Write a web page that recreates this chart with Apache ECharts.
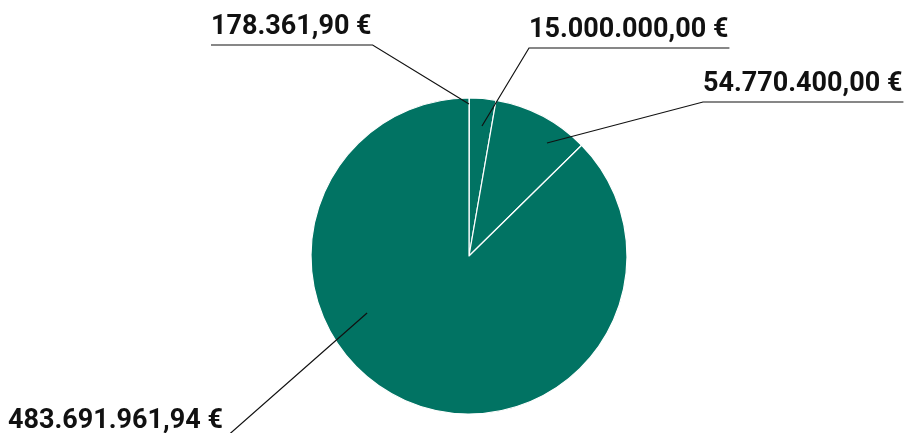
<!DOCTYPE html>
<html>
<head>
<meta charset="utf-8">
<script src="https://cdn.jsdelivr.net/npm/echarts@6/dist/echarts.min.js"></script>
<style>
html,body{margin:0;padding:0;background:#fff;}
#main{width:912px;height:433px;}
</style>
</head>
<body>
<div id="main"></div>
<script>
// Data
var categories = ['A', 'B', 'C', 'D'];
var values = [178361.90, 15000000.00, 54770400.00, 483691961.94];
var labels = ['178.361,90 €', '15.000.000,00 €', '54.770.400,00 €', '483.691.961,94 €'];

// Layout config (label placement only)
var CX = 469, CY = 256, R = 158;
// [text left x, underline y, anchor angle (deg, clockwise from top), anchor radius fraction, side]
var labelLayoutCfg = [
  [211, 45, 0.0, 0.962, 'right'],
  [529, 48, 5.7, 0.827, 'left'],
  [703, 102, 34.6, 0.869, 'left'],
  [8, 439, 240.8, 0.739, 'right']
];

var chart = echarts.init(document.getElementById('main'), null, {renderer: 'canvas'});
var FONT = 'Roboto';
var FS = 27;

var data = categories.map(function (c, i) {
  return {name: c, value: values[i]};
});

chart.setOption({
  animation: false,
  series: [{
    type: 'pie',
    z: 1,
    center: [CX, CY],
    radius: R,
    startAngle: 90,
    clockwise: true,
    minAngle: 0,
    avoidLabelOverlap: false,
    data: data,
    silent: true,
    itemStyle: {color: '#017363', borderColor: '#ffffff', borderWidth: 1.2},
    emphasis: {disabled: true},
    label: {show: false},
    labelLine: {show: false}
  }, {
    type: 'pie',
    z: 5,
    center: [CX, CY],
    radius: R,
    startAngle: 90,
    clockwise: true,
    minAngle: 0,
    avoidLabelOverlap: false,
    data: data,
    silent: true,
    itemStyle: {color: 'rgba(0,0,0,0)', borderWidth: 0},
    emphasis: {disabled: true},
    label: {
      show: true,
      position: 'outside',
      formatter: function (p) { return labels[p.dataIndex]; },
      color: '#111111',
      fontFamily: FONT,
      fontWeight: 'bold',
      fontSize: FS,
      lineHeight: FS
    },
    labelLine: {
      show: true,
      length: 20,
      length2: 20,
      lineStyle: {color: '#111111', width: 1.2}
    },
    labelLayout: function (params) {
      var cfg = labelLayoutCfg[params.dataIndex];
      var w = params.labelRect.width;
      var lx = cfg[0], uy = cfg[1];
      var a = cfg[2] * Math.PI / 180;
      var sx = CX + Math.sin(a) * R * cfg[3];
      var sy = CY - Math.cos(a) * R * cfg[3];
      var pts;
      if (cfg[4] === 'right') {
        pts = [[sx, sy], [lx + w + 1, uy], [lx, uy]];
      } else {
        pts = [[sx, sy], [lx, uy], [lx + w + 1, uy]];
      }
      return {
        x: lx,
        y: uy - 4,
        align: 'left',
        verticalAlign: 'bottom',
        labelLinePoints: pts
      };
    }
  }]
});
</script>
</body>
</html>
